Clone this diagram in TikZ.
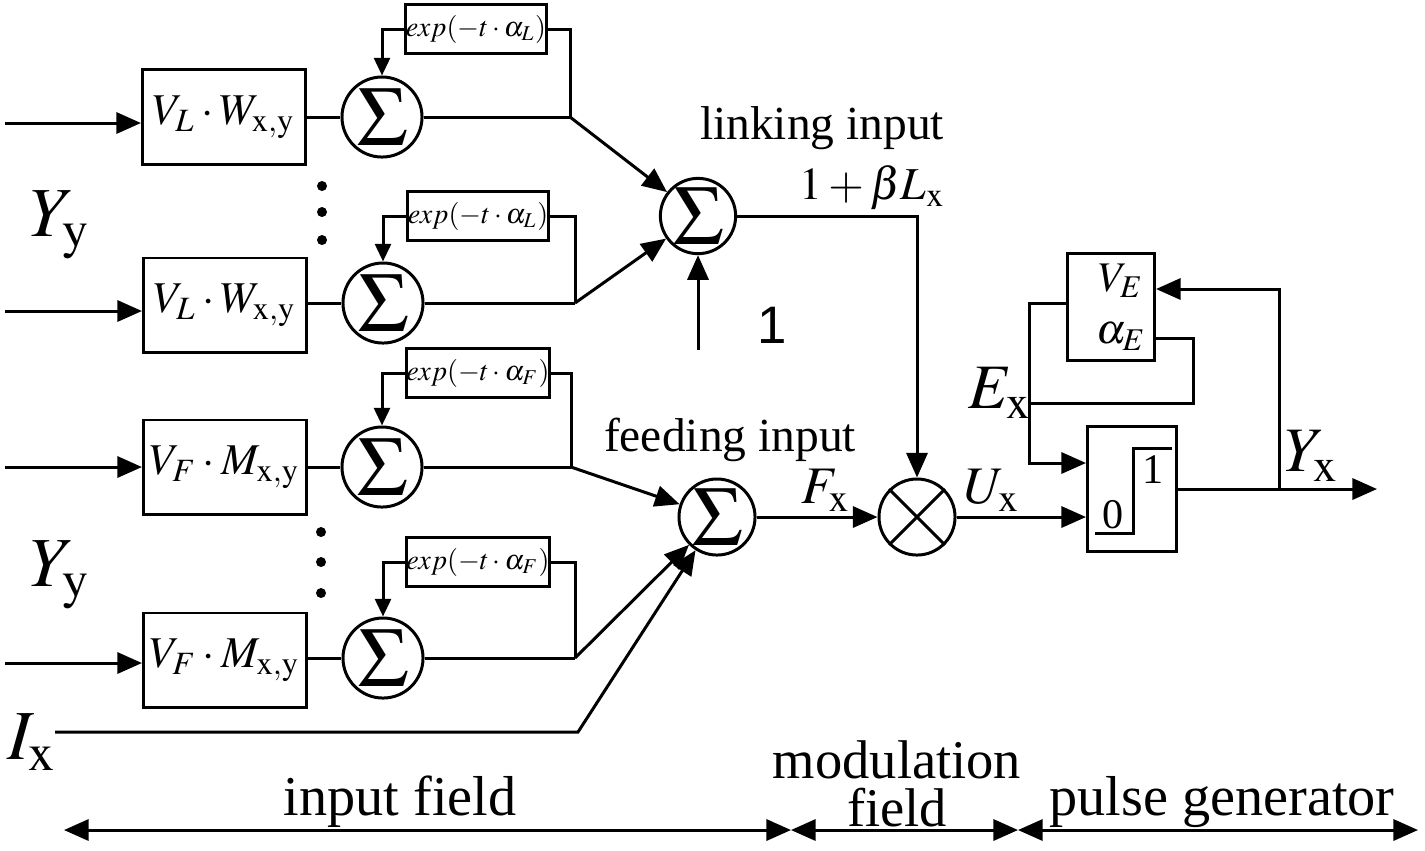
\documentclass[tikz,border=0pt]{standalone}
\usepackage{mathptmx}
\usepackage{fontspec}
\setmainfont{Liberation Serif}
\newfontfamily\onefont{Liberation Sans}
\usepackage{tikz}
\usetikzlibrary{arrows.meta}
\tikzset{
  blk/.style={draw, line width=0.85pt, minimum width=1.63cm, minimum height=0.94cm, inner sep=0pt, font=\fontsize{12.5}{14}\selectfont},
  sumnode/.style={draw, circle, line width=0.85pt, minimum size=0.8cm, inner sep=0pt},
  expbox/.style={draw, line width=0.85pt, minimum width=1.4cm, minimum height=0.49cm, inner sep=0pt, font=\fontsize{8}{9}\selectfont},
  ln/.style={line width=0.85pt},
  con/.style={line width=0.85pt, -{Triangle[length=7pt,width=6pt]}},
  fb/.style={line width=0.85pt, -{Triangle[length=5pt,width=4.5pt]}},
  lbl/.style={font=\fontsize{13.5}{15}\selectfont, inner sep=0pt},
  big/.style={font=\fontsize{18}{20}\selectfont, inner sep=0pt},
  field/.style={font=\fontsize{16}{18}\selectfont, inner sep=0pt}
}
\newcommand{\sumsign}{\fontsize{24}{24}\selectfont$\Sigma$}

\begin{document}
\begin{tikzpicture}[x=0.01cm,y=-0.01cm]
\useasboundingbox (0,0) rectangle (1425,850);

%linking 1
\node[blk] (wL1) at (224,117) {$V_L\cdot W_{\mathrm{x,y}}$};
\node[sumnode] (sL1) at (382,117) {\sumsign};
\node[expbox] (eL1) at (476,29) {$exp(-t\cdot\alpha_L)$};
\coordinate (in1) at (5,123);
\coordinate (jL1) at (570,117);
\draw[con] (in1) -- (in1 -| wL1.west);
\draw[ln] (wL1) -- (sL1);
\draw[fb] (eL1.west) -| (sL1.north);
\draw[ln] (sL1) -- (jL1);
\draw[ln] (eL1.east) -| (jL1);

%linking 2
\node[blk] (wL2) at (225,305) {$V_L\cdot W_{\mathrm{x,y}}$};
\node[sumnode] (sL2) at (383,303) {\sumsign};
\node[expbox] (eL2) at (478,216) {$exp(-t\cdot\alpha_L)$};
\coordinate (in2) at (5,311);
\coordinate (jL2) at (575,303);
\draw[con] (in2) -- (in2 -| wL2.west);
\draw[ln] (wL2.east |- sL2) -- (sL2);
\draw[fb] (eL2.west) -| (sL2.north);
\draw[ln] (sL2) -- (jL2);
\draw[ln] (eL2.east) -| (jL2);

\foreach \y in {186,212,240} \fill (322,\y) circle (0.05cm);
\node[big, font=\fontsize{20}{22}\selectfont] (yy1) at (60,225) {$Y_{\mathrm{y}}$};

%linking sum
\node[sumnode, minimum size=0.75cm] (lsum) at (698,216) {\sumsign};
\coordinate (one) at (698,350);
\draw[con] (jL1) -- (lsum);
\draw[con] (jL2) -- (lsum);
\draw[con] (one) -- (lsum.south);
\node[font=\onefont\fontsize{15}{16}\selectfont] (onelbl) at (772,325) {1};
\node[lbl] (link) at (822,128) {linking input};

%feeding 1
\node[blk] (wF1) at (225,467) {$V_F\cdot M_{\mathrm{x,y}}$};
\node[sumnode] (sF1) at (382,467) {\sumsign};
\node[expbox] (eF1) at (478,373) {$exp(-t\cdot\alpha_F)$};
\coordinate (in3) at (5,467);
\coordinate (jF1) at (571,467);
\draw[con] (in3) -- (in3 -| wF1.west);
\draw[ln] (wF1) -- (sF1);
\draw[fb] (eF1.west) -| (sF1.north);
\draw[ln] (sF1) -- (jF1);
\draw[ln] (eF1.east) -| (jF1);

%feeding 2
\node[blk] (wF2) at (225,660) {$V_F\cdot M_{\mathrm{x,y}}$};
\node[sumnode] (sF2) at (383,658) {\sumsign};
\node[expbox] (eF2) at (478,562) {$exp(-t\cdot\alpha_F)$};
\coordinate (in4) at (5,663);
\coordinate (jF2) at (575,658);
\draw[con] (in4) -- (in4 -| wF2.west);
\draw[ln] (wF2.east |- sF2) -- (sF2);
\draw[fb] (eF2.west) -| (sF2.north);
\draw[ln] (sF2) -- (jF2);
\draw[ln] (eF2.east) -| (jF2);

\foreach \y in {532,562,593} \fill (321,\y) circle (0.05cm);
\node[big, font=\fontsize{20}{22}\selectfont] (yy2) at (60,575) {$Y_{\mathrm{y}}$};

%feeding sum
\node[sumnode, minimum size=0.76cm] (fsum) at (717,517) {\sumsign};
\node[lbl] (feed) at (730,440) {feeding input};
\coordinate (ix) at (55,732);
\coordinate (ixk) at (578,732);
\node[big, font=\fontsize{20}{22}\selectfont] (ixlbl) at (32,742) {$I_{\mathrm{x}}$};
\draw[con] (jF1) -- (fsum);
\draw[con] (jF2) -- (fsum);
\draw[con] (ix) -- (ixk) -- (fsum);

%modulation
\node[sumnode, minimum size=0.76cm] (mult) at (917,517) {};
\draw[ln] (mult.north west) -- (mult.south east);
\draw[ln] (mult.north east) -- (mult.south west);
\draw[con] (fsum) -- (mult);
\draw[con] (lsum.east) -| (mult.north);
\node[lbl, font=\fontsize{13}{15}\selectfont] (beta) at (872,188) {$1+\beta L_{\mathrm{x}}$};
\node[big, font=\fontsize{15}{17}\selectfont] (fx) at (826,490) {$F_{\mathrm{x}}$};
\node[big, font=\fontsize{15}{17}\selectfont] (ux) at (992,490) {$U_{\mathrm{x}}$};

%pulse generator
\node[draw, ln, minimum width=0.89cm, minimum height=1.25cm] (gen) at (1132,489) {};
\node[draw, ln, minimum width=0.87cm, minimum height=1.06cm, inner sep=0pt, align=center,
      font=\fontsize{12}{15}\selectfont] (vebox) at (1111,307) {\hspace*{0.2cm}$V_E$\\\hspace*{0.2cm}$\alpha_E$};
\draw[ln] (1095,533) -- (1133,533) -- (1133,448) -- (1172,448);
\node[font=\fontsize{12}{14}\selectfont] (zero) at (1113,515) {0};
\node[font=\fontsize{12}{14}\selectfont] (unit) at (1153,470) {1};
\draw[con] (mult.east) -- (mult.east -| gen.west);
\coordinate (yout) at (1377,489);
\coordinate (yj) at (1279,489);
\coordinate (ej) at (1029,403);
\coordinate (ak) at (1193,403);
\draw[con] (gen.east |- yout) -- (yout);
\draw[con] (yj) |- ([yshift=0.18cm]vebox.east);
\draw[ln] ([yshift=0.04cm]vebox.west) -| (ej);
\draw[con] (ej) |- ([yshift=0.26cm]gen.west);
\draw[ln] ([yshift=-0.31cm]vebox.east) -| (ak) -- (ej);
\node[big] (ex) at (1000,393) {$E_{\mathrm{x}}$};
\node[big] (yx) at (1312,456) {$Y_{\mathrm{x}}$};

%fields
\coordinate (b0) at (64,830);
\coordinate (b1) at (791,830);
\coordinate (b2) at (1018,830);
\coordinate (b3) at (1418,830);
\draw[ln, {Triangle[length=7pt,width=6pt]}-{Triangle[length=7pt,width=6pt]}] (b0) -- (b1);
\draw[ln, {Triangle[length=7pt,width=6pt]}-{Triangle[length=7pt,width=6pt]}] (b1) -- (b2);
\draw[ln, {Triangle[length=7pt,width=6pt]}-{Triangle[length=7pt,width=6pt]}] (b2) -- (b3);
\node[field] (inf) at (400,802) {input field};
\node[field, align=center, font=\fontsize{15.5}{13.5}\selectfont] (modf) at (897,784) {modulation\\field};
\node[field] (pulf) at (1222,802) {pulse generator};

\end{tikzpicture}
\end{document}
